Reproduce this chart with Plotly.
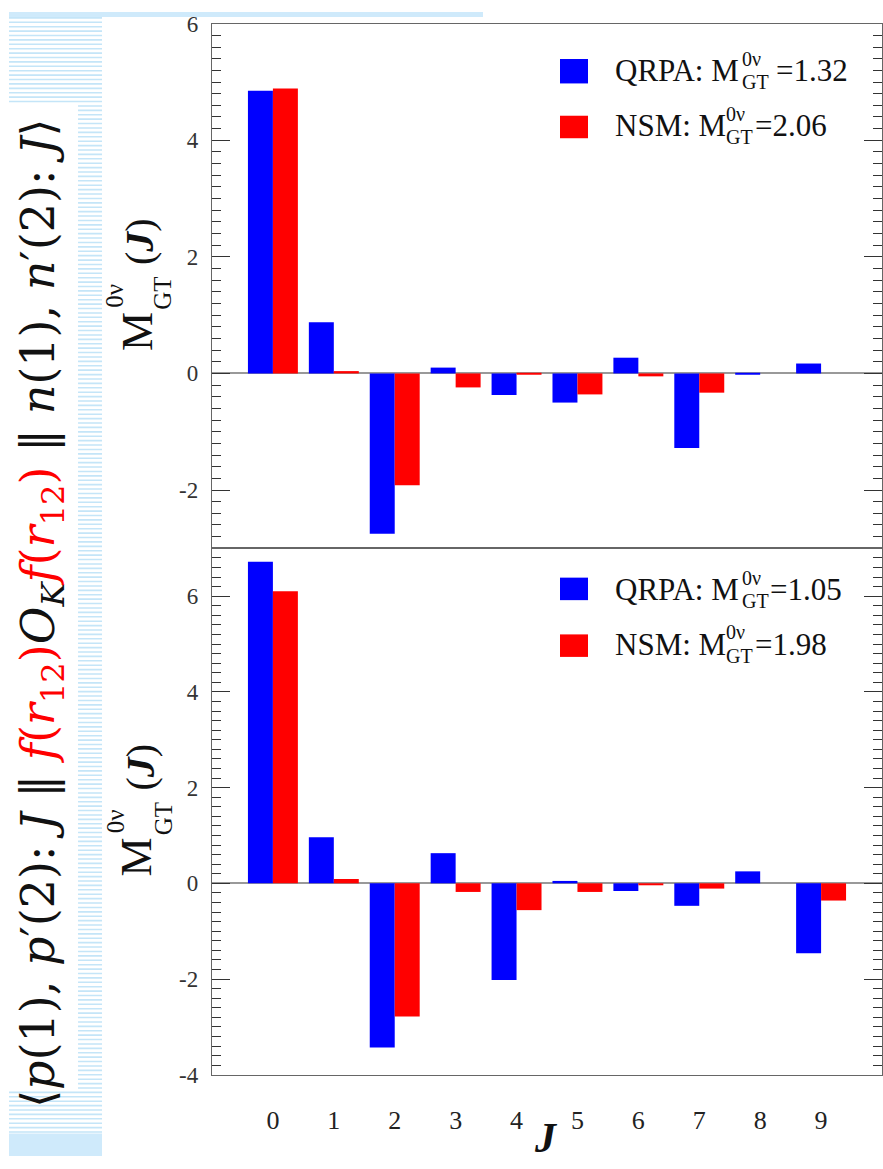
import plotly.graph_objects as go

# ---------------- data ----------------
J_values = [0, 1, 2, 3, 4, 5, 6, 7, 8, 9]
x_tick_labels = ["0", "1", "2", "3", "4", "5", "6", "7", "8", "9"]

top_qrpa = [4.85, 0.88, -2.75, 0.10, -0.37, -0.50, 0.27, -1.28, -0.02, 0.17]
top_nsm = [4.89, 0.04, -1.92, -0.24, -0.02, -0.36, -0.05, -0.33, 0.0, 0.0]

bot_qrpa = [6.72, 0.96, -3.43, 0.63, -2.02, 0.05, -0.16, -0.47, 0.25, -1.46]
bot_nsm = [6.10, 0.09, -2.78, -0.18, -0.56, -0.18, -0.03, -0.11, 0.0, -0.36]

top_totals = {"QRPA": "1.32", "NSM": "2.06"}
bot_totals = {"QRPA": "1.05", "NSM": "1.98"}

top_yticks = [-2, 0, 2, 4, 6]
top_yticktext = ["-2", "0", "2", "4", "6"]
bot_yticks = [-4, -2, 0, 2, 4, 6]
bot_yticktext = ["-4", "-2", "0", "2", "4", "6"]

# ---------------- helpers ----------------
W, H = 883, 1169
def px(x):
    return x / W
def py(y):
    return 1 - y / H

BLUE = "#0000ff"
RED = "#ff0000"
SERIF = "Liberation Serif"

fig = go.Figure()
fig.add_trace(go.Bar(x=J_values, y=top_qrpa, marker=dict(color=BLUE, line=dict(width=0)),
                     xaxis="x2", yaxis="y2", name="QRPA"))
fig.add_trace(go.Bar(x=J_values, y=top_nsm, marker=dict(color=RED, line=dict(width=0)),
                     xaxis="x2", yaxis="y2", name="NSM"))
fig.add_trace(go.Bar(x=J_values, y=bot_qrpa, marker=dict(color=BLUE, line=dict(width=0)),
                     xaxis="x", yaxis="y", name="QRPA"))
fig.add_trace(go.Bar(x=J_values, y=bot_nsm, marker=dict(color=RED, line=dict(width=0)),
                     xaxis="x", yaxis="y", name="NSM"))

axis_line = dict(showline=True, linecolor="#666666", linewidth=1.3, mirror="ticks",
                 showgrid=False)

yaxis_common = dict(
    **axis_line,
    ticks="inside", ticklen=18, tickwidth=1.3, tickcolor="#333333",
    minor=dict(dtick=0.2, ticks="inside", ticklen=9, tickwidth=1.2, tickcolor="#333333"),
    zeroline=True, zerolinecolor="#999999", zerolinewidth=2,
    tickfont=dict(family=SERIF, size=23, color="#333333"),
    ticklabelstandoff=8,
)

fig.update_layout(
    width=W, height=H,
    margin=dict(l=0, r=0, t=0, b=0),
    paper_bgcolor="white", plot_bgcolor="white",
    showlegend=False,
    barmode="group", bargap=0.18, bargroupgap=0,
    xaxis=dict(domain=[px(212), px(882)], range=[-1, 10], anchor="y",
               tickvals=J_values, ticktext=x_tick_labels, ticks="",
               tickfont=dict(family=SERIF, size=26, color="#222222"),
               ticklabelstandoff=22, zeroline=False, **axis_line),
    yaxis=dict(domain=[py(1086), py(548)], range=[-4, 7], anchor="x",
               tickvals=bot_yticks, ticktext=bot_yticktext, **yaxis_common),
    xaxis2=dict(domain=[px(212), px(882)], range=[-1, 10], anchor="y2",
                showticklabels=False, ticks="", zeroline=False, **axis_line),
    yaxis2=dict(domain=[py(548), py(12)], range=[-3, 6], anchor="x2",
                tickvals=top_yticks, ticktext=top_yticktext, **yaxis_common),
)

# ---------------- background decorations ----------------
stripe_segments = []
y = 6.0
while y < 1145:
    x0 = 9 if (y < 92 or y > 1103) else 78
    stripe_segments.append(f"M{px(x0):.5f},{py(y):.5f} L{px(102):.5f},{py(y):.5f}")
    y += 4.5
shapes = [
    dict(type="path", xref="paper", yref="paper", path=" ".join(stripe_segments),
         line=dict(color="#c4e5f8", width=1.6), layer="below"),
    dict(type="rect", xref="paper", yref="paper", x0=px(9), x1=px(102), y0=py(1169), y1=py(1146),
         fillcolor="#cfeafb", line=dict(width=0), layer="below"),
    dict(type="rect", xref="paper", yref="paper", x0=px(9), x1=px(483), y0=py(5), y1=py(0),
         fillcolor="#cfeafb", line=dict(width=0), layer="below"),
]

# legend squares
for (y0, y1, c) in [(48, 73, BLUE), (106, 129, RED), (578, 601, BLUE), (636, 659, RED)]:
    shapes.append(dict(type="rect", xref="paper", yref="paper", x0=px(560), x1=px(588),
                       y0=py(y1), y1=py(y0), fillcolor=c, line=dict(width=0)))
fig.update_layout(shapes=shapes)

annotations = []
def ann(text, x, y, size, xanchor="center", yanchor="middle", angle=0, color="#111111",
        family=SERIF):
    annotations.append(dict(text=text, x=px(x), y=py(y), xref="paper", yref="paper",
                            xanchor=xanchor, yanchor=yanchor, showarrow=False, borderpad=0,
                            borderwidth=0, textangle=angle,
                            font=dict(family=family, size=size, color=color)))

# legend texts: "<name>: M" starts at x=615; stacked 0ν / GT follow right after the M
def legend_line(name, total, yc, m_end, eq_x):
    ann(name + ": M", 615, yc, 31, xanchor="left")
    ann("0ν", m_end, yc - 12, 20, xanchor="left")
    ann("GT", m_end, yc + 12, 20, xanchor="left")
    ann("=" + total, eq_x, yc, 31, xanchor="left")

legend_line("QRPA", top_totals["QRPA"], 60, 742, 776)
legend_line("NSM", top_totals["NSM"], 116, 726, 755)
legend_line("QRPA", bot_totals["QRPA"], 590, 742, 770)
legend_line("NSM", bot_totals["NSM"], 646, 726, 755)

# y axis titles (rotated)
def y_title(c):
    ann("M", 137, c + 47, 44, angle=-90)
    ann("0ν", 115, c + 10, 25, angle=-90)
    ann("GT", 163, c + 8, 25, angle=-90)
    ann("(<b><i>J</i></b>)", 140, c - 45, 40, angle=-90)

y_title(280)
y_title(817)

# x axis title
ann("<b><i>J</i></b>", 546, 1174, 42, yanchor="bottom")

# left strip formula
formula = ("⟨<i>p</i>(1), <i>p</i>′(2): <i>J</i> ‖ "
           "<span style='color:#ff0000'><i>f</i>(<i>r</i><sub>12</sub>)</span>"
           "<i>O</i><sub><i>K</i></sub>"
           "<span style='color:#ff0000'><i>f</i>(<i>r</i><sub>12</sub>)</span>"
           " ‖ <i>n</i>(1), <i>n</i>′(2): <i>J</i>⟩")
ann(formula, 42, 615, 46, angle=-90, color="#111111", family="DejaVu Serif")

fig.update_layout(annotations=annotations)

fig.write_html("out.html")
